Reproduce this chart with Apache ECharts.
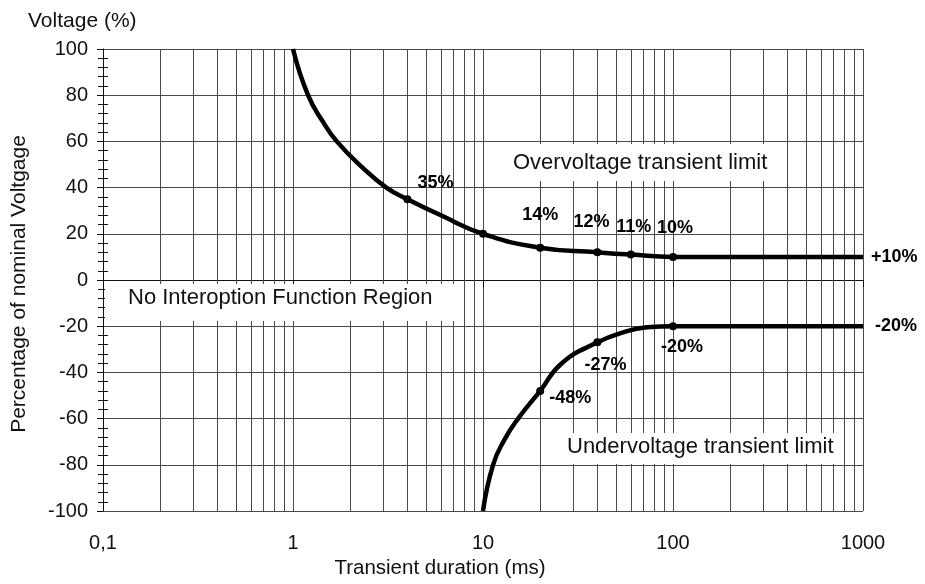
<!DOCTYPE html>
<html>
<head>
<meta charset="utf-8">
<script src="https://cdn.jsdelivr.net/npm/echarts@6/dist/echarts.min.js"></script>
<style>
html,body{margin:0;padding:0;background:#fff;}
#chart{width:925px;height:584px;}
</style>
</head>
<body>
<div id="chart"></div>
<script>
// ---- data ----
const overDuration = [1, 1.2, 1.45, 1.7, 2.3, 3.1, 4, 6, 10, 20, 40, 60, 100, 1000];
const overVoltage  = [100, 80, 68, 60, 49, 40, 35, 28, 20, 14, 12, 11, 10, 10];
const underDuration = [10, 11.3, 13, 15.3, 20, 26, 40, 53, 73, 100, 1000];
const underVoltage  = [-100, -80, -69, -60, -48, -36, -27, -23, -20.5, -20, -20];

const overMarkDuration = [4, 10, 20, 40, 60, 100];
const overMarkVoltage  = [35, 20, 14, 12, 11, 10];
const overMarkLabels   = ['35%', '', '14%', '12%', '11%', '10%'];
const underMarkDuration = [20, 40, 100];
const underMarkVoltage  = [-48, -27, -20];
const underMarkLabels   = ['-48%', '-27%', '-20%'];
const overEndLabel = '+10%';
const underEndLabel = '-20%';

const xTickValues = [0.1, 1, 10, 100, 1000];
const xTickLabels = ['0,1', '1', '10', '100', '1000'];
const minorGridX = [0.2,0.3,0.4,0.5,0.6,0.7,0.8,0.9, 2,3,4,5,6,7,8,9, 20,30,40,50,60,70,80,90, 200,300,400,500,600,700,800,900];
const yMin = -100, yMax = 100, yStep = 20;

const titleY = 'Voltage (%)';
const nameY = 'Percentage of nominal Voltgage';
const nameX = 'Transient duration (ms)';
const boxOver = 'Overvoltage transient limit';
const boxNoInt = 'No Interoption Function Region';
const boxUnder = 'Undervoltage transient limit';

// ---- styles ----
const FONT = '"Liberation Sans", Arial, Helvetica, sans-serif';
const GRID = '#4a4a4a';
const INK = '#111';

// label offsets for markers (style only)
const overOffsets = [[28,-16],[0,0],[0,-33],[-6,-30],[3,-28],[2,-29]];
const underOffsets = [[30,7],[8,23],[9,21]];

const chart = echarts.init(document.getElementById('chart'), null, {renderer:'canvas'});

function labelFor(v){
  const i = xTickValues.findIndex(t => Math.abs(Math.log10(t) - Math.log10(v)) < 1e-6);
  return i >= 0 ? xTickLabels[i] : '';
}

const markLbl = {show:true, position:'inside', color:'#000', opacity:1, fontFamily:FONT, fontSize:18, fontWeight:'bold'};

const option = {
  backgroundColor:'#fff',
  animation:false,
  grid:{left:103, right:62, top:49, bottom:73, containLabel:false},
  xAxis:{
    type:'log', logBase:10, min:0.1, max:1000,
    name:nameX, nameLocation:'middle', nameGap:42,
    nameTextStyle:{color:INK, fontFamily:FONT, fontSize:20.5, padding:[0, 86, 0, 0]},
    axisLine:{show:true, lineStyle:{color:INK, width:1}},
    axisTick:{show:true, length:7, lineStyle:{color:INK}},
    axisLabel:{color:INK, fontFamily:FONT, fontSize:20, margin:22, formatter:v => labelFor(v)},
    splitLine:{show:true, lineStyle:{color:GRID, width:1}},
    minorTick:{show:false}, minorSplitLine:{show:false}
  },
  yAxis:[{
    type:'value', min:yMin, max:yMax, interval:yStep,
    axisLine:{show:true, lineStyle:{color:INK, width:1}},
    axisTick:{show:true, length:6, lineStyle:{color:INK}},
    minorTick:{show:true, splitNumber:5, length:5, lineStyle:{color:INK}},
    axisLabel:{color:INK, fontFamily:FONT, fontSize:20, margin:15},
    splitLine:{show:true, lineStyle:{color:GRID, width:1}}
  },{
    type:'value', min:yMin, max:yMax, interval:yStep, position:'left',
    axisLine:{show:false},
    axisTick:{show:false, inside:true},
    minorTick:{show:true, splitNumber:5, length:5, lineStyle:{color:INK}},
    axisLabel:{show:false},
    splitLine:{show:false}
  }],
  series:[
    {
      type:'line', name:'grid-minor', data:[], silent:true,
      markLine:{
        symbol:'none', silent:true, label:{show:false},
        lineStyle:{color:GRID, width:1, type:'solid'},
        data: minorGridX.map(v => ({xAxis:v}))
      }
    },
    {
      type:'line', name:'Overvoltage',
      data: overDuration.map((d,i)=>[d, overVoltage[i]]),
      smooth:0.5, showSymbol:false, symbol:'none',
      lineStyle:{color:'#000', width:4.5},
      endLabel:{show:true, formatter:overEndLabel, distance:8, color:'#000', fontFamily:FONT, fontSize:18, fontWeight:'bold'},
      z:5
    },
    {
      type:'line', name:'Undervoltage',
      data: underDuration.map((d,i)=>[d, underVoltage[i]]),
      smooth:0.5, showSymbol:false, symbol:'none',
      lineStyle:{color:'#000', width:4.5},
      endLabel:{show:true, formatter:underEndLabel, distance:12, color:'#000', fontFamily:FONT, fontSize:18, fontWeight:'bold'},
      z:5
    },
    {
      type:'scatter', symbol:'circle', symbolSize:8, itemStyle:{color:'#000', opacity:1}, z:6,
      data: overMarkDuration.map((d,i)=>({value:[d, overMarkVoltage[i]],
        label:Object.assign({}, markLbl, {show: overMarkLabels[i] !== '', formatter: overMarkLabels[i], offset: overOffsets[i]})}))
    },
    {
      type:'scatter', symbol:'circle', symbolSize:8, itemStyle:{color:'#000', opacity:1}, z:6,
      data: underMarkDuration.map((d,i)=>({value:[d, underMarkVoltage[i]],
        label:Object.assign({}, markLbl, {formatter: underMarkLabels[i], offset: underOffsets[i]})}))
    }
  ],
  graphic:[
    {type:'text', left:28, top:11, style:{text:titleY, fill:INK, font:'21px ' + FONT}},
    {type:'text', x:19, y:284, rotation:Math.PI/2,
      style:{text:nameY, fill:INK, font:'21px ' + FONT, textAlign:'center', textVerticalAlign:'middle'}},
    {type:'rect', shape:{x:505, y:144, width:270, height:37}, style:{fill:'#fff'}, z:50},
    {type:'text', x:513, y:163, style:{text:boxOver, fill:INK, font:'22px ' + FONT, textVerticalAlign:'middle'}, z:51},
    {type:'rect', shape:{x:105, y:284, width:353, height:37}, style:{fill:'#fff'}, z:50},
    {type:'text', x:128, y:298, style:{text:boxNoInt, fill:INK, font:'22px ' + FONT, textVerticalAlign:'middle'}, z:51},
    {type:'rect', shape:{x:563, y:433, width:278, height:31}, style:{fill:'#fff'}, z:50},
    {type:'text', x:567, y:447, style:{text:boxUnder, fill:INK, font:'22px ' + FONT, textVerticalAlign:'middle'}, z:51}
  ]
};
chart.setOption(option);
</script>
</body>
</html>
